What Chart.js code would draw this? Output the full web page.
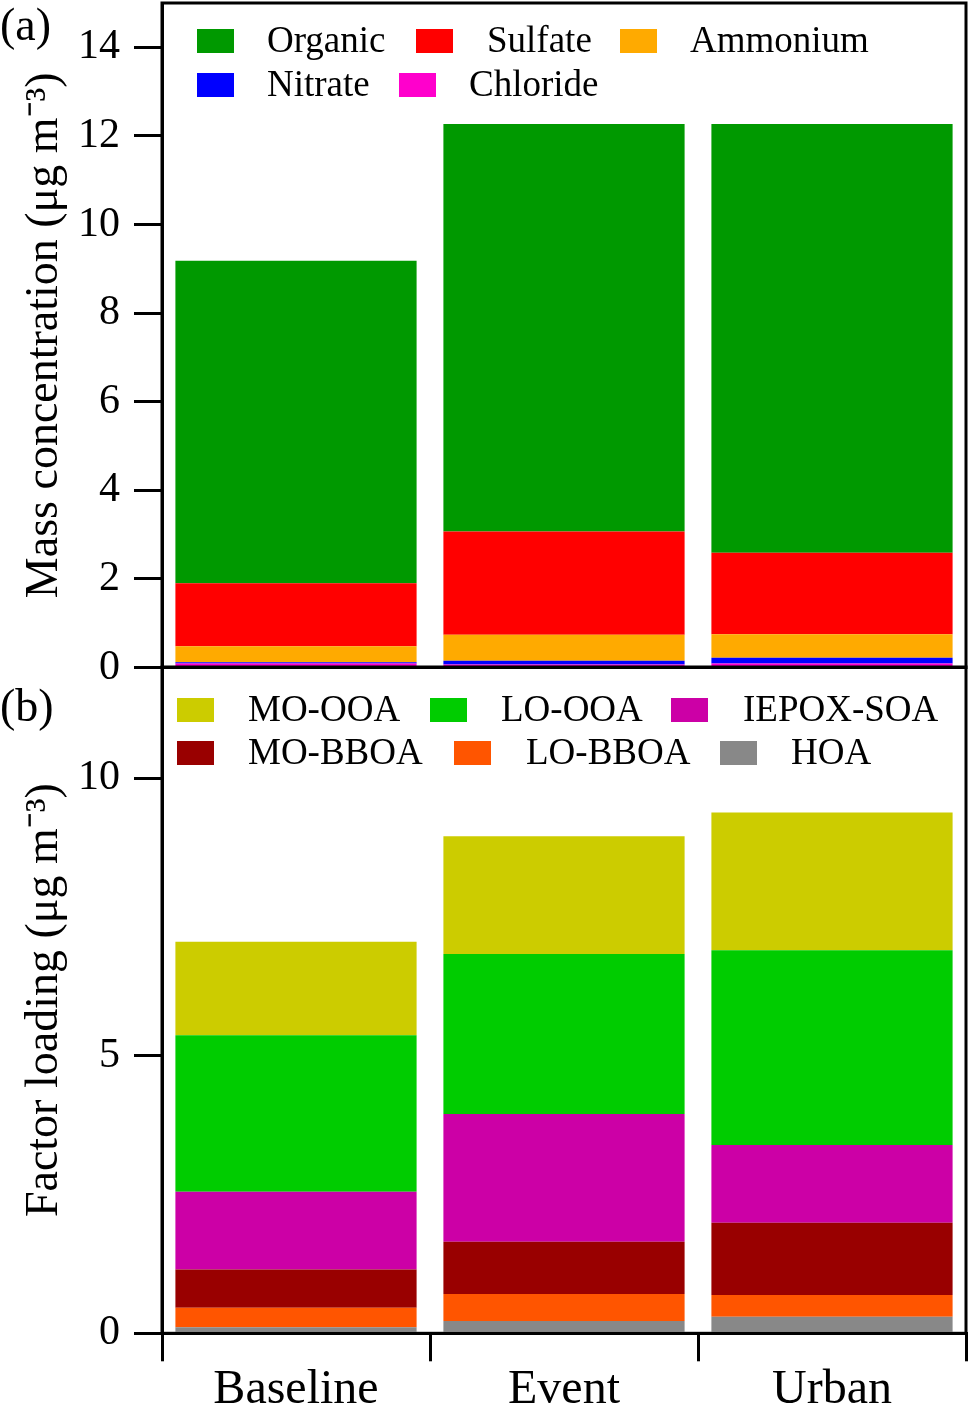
<!DOCTYPE html>
<html>
<head>
<meta charset="utf-8">
<script src="https://cdn.jsdelivr.net/npm/chart.js@4"></script>
<style>
  body { margin: 0; background: #fff; }
  #wrap { position: relative; width: 969px; height: 1405px; overflow: hidden; font-family: 'Liberation Serif', 'Times New Roman', serif; color: #000; }
  canvas { position: absolute; left: 0; }
  #chartA { top: 0; }
  #chartB { top: 640px; }
  .panel { position: absolute; left: 0; font-size: 46px; line-height: 1; }
  .lg-box { position: absolute; width: 37px; height: 24px; }
  .lg-txt { position: absolute; font-size: 37px; line-height: 1; white-space: nowrap; }
</style>
</head>
<body>
<div id="wrap">
  <canvas id="chartA" width="969" height="700"></canvas>
  <canvas id="chartB" width="969" height="765"></canvas>
  <div class="panel" style="top:2px">(a)</div>
  <div class="panel" style="top:683px">(b)</div>
  <div id="legendA"></div>
  <div id="legendB"></div>
</div>
<script>
const categories = ['Baseline', 'Event', 'Urban'];

// panel (a), species stacked from the bottom up
const chloride = [0.09, 0.07, 0.09];
const nitrate = [0.03, 0.08, 0.13];
const ammonium = [0.36, 0.59, 0.53];
const sulfate = [1.42, 2.33, 1.84];
const organic = [7.28, 9.20, 9.68];
const ticksA = [0, 2, 4, 6, 8, 10, 12, 14];

// panel (b), PMF factors stacked from the bottom up
const hoa = [0.11, 0.22, 0.30];
const loBboa = [0.35, 0.49, 0.39];
const moBboa = [0.69, 0.94, 1.30];
const iepoxSoa = [1.40, 2.30, 1.40];
const loOoa = [2.82, 2.88, 3.51];
const moOoa = [1.68, 2.12, 2.48];
const ticksB = [0, 5, 10];

Chart.defaults.font.family = "'Liberation Serif', 'Times New Roman', serif";
Chart.defaults.color = '#000';

const datasetsA = [
  {label: 'Chloride', data: chloride, backgroundColor: '#ff00cc'},
  {label: 'Nitrate', data: nitrate, backgroundColor: '#0000ff'},
  {label: 'Ammonium', data: ammonium, backgroundColor: '#ffaa00'},
  {label: 'Sulfate', data: sulfate, backgroundColor: '#ff0000'},
  {label: 'Organic', data: organic, backgroundColor: '#009900'}
];

const datasetsB = [
  {label: 'HOA', data: hoa, backgroundColor: '#888888'},
  {label: 'LO-BBOA', data: loBboa, backgroundColor: '#ff5500'},
  {label: 'MO-BBOA', data: moBboa, backgroundColor: '#990000'},
  {label: 'IEPOX-SOA', data: iepoxSoa, backgroundColor: '#cc00a6'},
  {label: 'LO-OOA', data: loOoa, backgroundColor: '#00cc00'},
  {label: 'MO-OOA', data: moOoa, backgroundColor: '#cccc00'}
];

// box around the plot area
const frame = {
  id: 'frame',
  afterDraw(chart) {
    const {ctx, chartArea: {left, top, right, bottom}} = chart;
    ctx.save();
    ctx.strokeStyle = '#000';
    ctx.lineWidth = 3;
    ctx.strokeRect(left, top, right - left, bottom - top);
    ctx.restore();
  }
};

const yAxis = (title, max, ticks) => ({
  stacked: true,
  min: 0,
  max: max,
  afterBuildTicks: s => { s.ticks = ticks.map(v => ({value: v})) },
  afterFit: s => {
    s.width = 162
    s.paddingTop = 0
    s.paddingBottom = 0
  },
  grid: {drawOnChartArea: false, tickLength: 28, lineWidth: 3, color: '#000'},
  border: {color: '#000', width: 3},
  ticks: {font: {size: 42}, padding: 14, color: '#000'},
  title: {display: true, text: title, font: {size: 46}, padding: {top: 17, bottom: 0}, color: '#000'}
});

const makeDatasets = list => list.map(d => ({...d, borderWidth: 0, barPercentage: 0.9, categoryPercentage: 1.0}));

new Chart(document.getElementById('chartA'), {
  type: 'bar',
  data: {labels: categories, datasets: makeDatasets(datasetsA)},
  options: {
    responsive: false,
    animation: false,
    layout: {padding: {top: 3, bottom: 32.5, right: 3, left: 0}},
    plugins: {legend: {display: false}, tooltip: {enabled: false}},
    scales: {
      x: {stacked: true, display: false},
      y: yAxis('Mass concentration (μg m⁻³)', 15, ticksA)
    }
  },
  plugins: [frame]
});

new Chart(document.getElementById('chartB'), {
  type: 'bar',
  data: {labels: categories, datasets: makeDatasets(datasetsB)},
  options: {
    responsive: false,
    animation: false,
    layout: {padding: {top: 27, bottom: 0, right: 3, left: 0}},
    plugins: {legend: {display: false}, tooltip: {enabled: false}},
    scales: {
      x: {
        stacked: true,
        afterFit: s => {
          s.height = 71.7
          s.paddingLeft = 0
          s.paddingRight = 0
        },
        grid: {offset: true, drawOnChartArea: false, tickLength: 28, lineWidth: 3, color: '#000'},
        border: {color: '#000', width: 3},
        ticks: {font: {size: 48}, padding: 0, color: '#000'}
      },
      y: yAxis('Factor loading (μg m⁻³)', 12, ticksB)
    }
  },
  plugins: [frame]
});

// legends laid out like the original, built from the dataset labels and colours
const legendPosA = {
  'Organic': [197, 41, 267], 'Sulfate': [416, 41, 487], 'Ammonium': [620, 41, 690],
  'Nitrate': [197, 85, 267], 'Chloride': [399, 85, 469]
};
const legendPosB = {
  'MO-OOA': [177, 710, 248], 'LO-OOA': [430, 710, 501], 'IEPOX-SOA': [671, 710, 743],
  'MO-BBOA': [177, 753, 248], 'LO-BBOA': [454, 753, 526], 'HOA': [720, 753, 791]
};

const buildLegend = (id, datasets, pos) => {
  const el = document.getElementById(id);
  datasets.forEach(d => {
    const [bx, cy, tx] = pos[d.label];
    const box = document.createElement('div');
    box.className = 'lg-box';
    box.style.left = bx + 'px';
    box.style.top = (cy - 12) + 'px';
    box.style.background = d.backgroundColor;
    el.appendChild(box);
    const txt = document.createElement('div');
    txt.className = 'lg-txt';
    txt.style.left = tx + 'px';
    txt.style.top = (cy - 20.5) + 'px';
    txt.textContent = d.label;
    el.appendChild(txt);
  });
};
buildLegend('legendA', datasetsA, legendPosA);
buildLegend('legendB', datasetsB, legendPosB);
</script>
</body>
</html>
